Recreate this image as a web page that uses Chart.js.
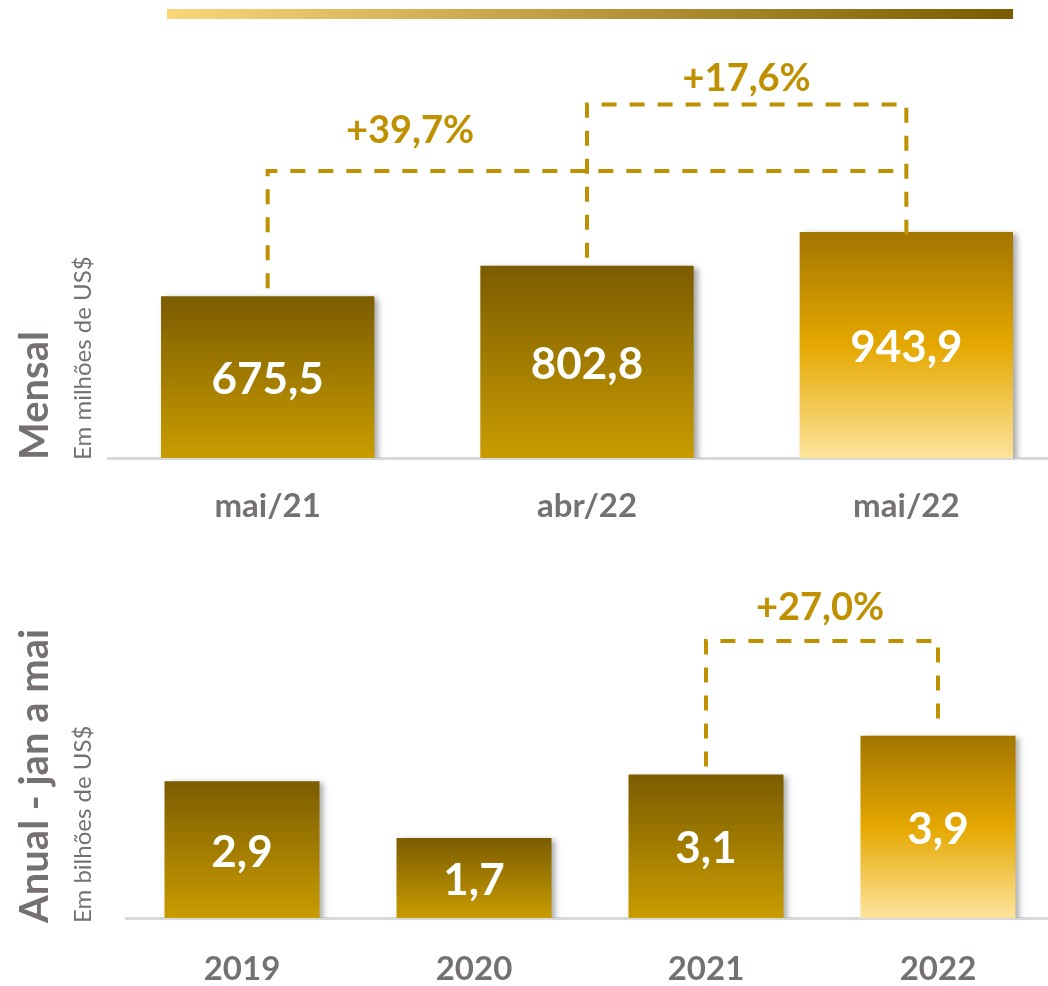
<!DOCTYPE html>
<html>
<head>
<meta charset="utf-8">
<script src="https://cdn.jsdelivr.net/npm/chart.js@4.4.1/dist/chart.umd.min.js"></script>
<style>
  body { margin: 0; background: #fff; width: 1048px; height: 986px; overflow: hidden; position: relative; }
  #faixa { position: absolute; left: 167px; top: 9px; width: 846px; height: 10px;
           background: linear-gradient(to right, #FAD679, #7A5C00); }
  .caixa { position: absolute; left: 0; }
  #caixa-mensal { top: 0; width: 1070px; height: 540px; }
  #caixa-anual { top: 540px; width: 1060px; height: 446px; }
</style>
</head>
<body>
<div id="faixa"></div>
<div class="caixa" id="caixa-mensal"><canvas id="mensal"></canvas></div>
<div class="caixa" id="caixa-anual"><canvas id="anual"></canvas></div>
<script>
// Mensal - em milhões de US$
const mesesLabels = ['mai/21', 'abr/22', 'mai/22'];
const mesesValores = [675.5, 802.8, 943.9];
const mesesVariacao = ['+39,7%', '+17,6%'];

// Anual - jan a mai, em bilhões de US$
const anosLabels = ['2019', '2020', '2021', '2022'];
const anosValores = [2.93, 1.71, 3.07, 3.90];
const anosVariacao = ['+27,0%'];

const FONTE = 'Lato, "Open Sans", sans-serif';
const CINZA = '#767171';
const OURO = '#BF9000';

Chart.defaults.font.family = FONTE;

// gradiente vertical de cada barra (a última é a destacada)
function corBarra(context) {
    const chart = context.chart;
    if (!chart.chartArea || context.type !== 'data') return '#A07800';
    const y = chart.scales.y;
    const topo = y.getPixelForValue(context.raw);
    const base = y.getPixelForValue(0);
    const g = chart.ctx.createLinearGradient(0, topo, 0, base);
    if (context.dataIndex === context.dataset.data.length - 1) {
        g.addColorStop(0, '#A37500');
        g.addColorStop(0.5, '#E5A800');
        g.addColorStop(1, '#FDE49C');
    } else {
        g.addColorStop(0, '#7B5C00');
        g.addColorStop(1, '#C99C00');
    }
    return g;
}

// sombra das barras
const sombra = {
    id: 'sombra',
    beforeDatasetsDraw(chart) {
        const c = chart.ctx;
        c.save();
        c.shadowColor = 'rgba(0,0,0,0.35)';
        c.shadowBlur = 6;
        c.shadowOffsetX = 4;
        c.shadowOffsetY = 2;
    },
    afterDatasetsDraw(chart) {
        chart.ctx.restore();
    }
};

// colchetes de variação, rótulos das barras e títulos laterais
const anotacoes = {
    id: 'anotacoes',
    afterDatasetsDraw(chart, args, opts) {
        const c = chart.ctx;
        const meta = chart.getDatasetMeta(0);
        const y = chart.scales.y;
        c.save();
        opts.colchetes.forEach(b => {
            const a = meta.data[b.de];
            const z = meta.data[b.ate];
            const yl = y.getPixelForValue(b.nivel);
            c.strokeStyle = OURO;
            c.lineWidth = 4;
            c.setLineDash([15, 13]);
            c.beginPath();
            c.moveTo(a.x, a.y - 8);
            c.lineTo(a.x, yl);
            c.lineTo(z.x, yl);
            if (!b.semFim) c.lineTo(z.x, z.y + b.fim);
            c.stroke();
            c.setLineDash([]);
            c.fillStyle = OURO;
            c.font = 'bold 38px ' + FONTE;
            c.textAlign = 'center';
            c.textBaseline = 'middle';
            c.fillText(b.texto, (a.x + z.x) / 2 + b.dx, yl + b.dy);
        });

        // valores dentro das barras
        c.fillStyle = '#fff';
        c.font = 'bold 44px ' + FONTE;
        c.textAlign = 'center';
        c.textBaseline = 'middle';
        meta.data.forEach((bar, i) => {
            const v = chart.data.datasets[0].data[i];
            c.fillText(v.toFixed(1).replace('.', ','), bar.x, (bar.y + bar.base) / 2 + 3);
        });

        // títulos laterais
        const baseY = chart.chartArea.bottom + opts.ajusteTitulo;
        c.fillStyle = CINZA;
        c.textAlign = 'left';
        c.textBaseline = 'alphabetic';
        c.save();
        c.translate(48, baseY);
        c.rotate(-Math.PI / 2);
        c.font = 'bold 40px ' + FONTE;
        c.fillText(opts.titulo, 0, 0);
        c.restore();
        c.save();
        c.translate(91, baseY);
        c.rotate(-Math.PI / 2);
        c.font = '24px ' + FONTE;
        c.fillText(opts.subtitulo, 0, 0);
        c.restore();
        c.restore();
    }
};

function criarGrafico(id, labels, valores, cfg) {
    new Chart(document.getElementById(id), {
        type: 'bar',
        data: {
            labels: labels,
            datasets: [{
                data: valores,
                backgroundColor: corBarra,
                borderWidth: 0,
                categoryPercentage: 1,
                barPercentage: 0.668
            }]
        },
        options: {
            responsive: true,
            maintainAspectRatio: false,
            animation: false,
            layout: { padding: cfg.padding },
            plugins: {
                legend: { display: false },
                tooltip: { enabled: false },
                anotacoes: cfg.anotacoes
            },
            scales: {
                y: { display: false, min: 0, max: cfg.max },
                x: {
                    grid: { display: false, drawTicks: false },
                    border: { display: true, color: '#D9D9D9', width: 3 },
                    ticks: {
                        color: CINZA,
                        padding: cfg.tickPadding,
                        font: { family: FONTE, weight: 'bold', size: 33 }
                    },
                    afterFit(scale) { scale.height = cfg.alturaEixo; }
                }
            }
        },
        plugins: [sombra, anotacoes]
    });
}

criarGrafico('mensal', mesesLabels, mesesValores, {
    padding: { left: 108, right: 4, top: 75, bottom: 0 },
    max: 1600,
    alturaEixo: 82,
    tickPadding: 29,
    anotacoes: {
        titulo: 'Mensal',
        subtitulo: 'Em milhões de US$',
        ajusteTitulo: 2,
        colchetes: [
            { de: 0, ate: 2, nivel: 1199, texto: mesesVariacao[0], dx: -177, dy: -40, semFim: true },
            { de: 1, ate: 2, nivel: 1477, texto: mesesVariacao[1], dx: 0, dy: -26, fim: 6 }
        ]
    }
});

criarGrafico('anual', anosLabels, anosValores, {
    padding: { left: 126, right: 6, top: 51, bottom: 0 },
    max: 7,
    alturaEixo: 68,
    tickPadding: 32,
    anotacoes: {
        titulo: 'Anual - jan a mai',
        subtitulo: 'Em bilhões de US$',
        ajusteTitulo: 5,
        colchetes: [
            { de: 2, ate: 3, nivel: 5.93, texto: anosVariacao[0], dx: -2, dy: -33, fim: -7 }
        ]
    }
});
</script>
</body>
</html>
